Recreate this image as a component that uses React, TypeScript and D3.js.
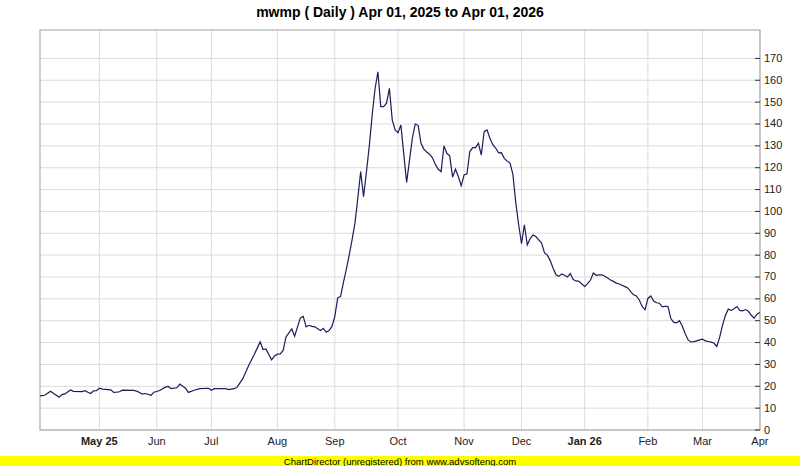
import React from "react";
import * as d3 from "d3";

// Trading-day index (0 = Apr 01, 2025) and closing price at that day
const dayIdx = [
  0, 2, 4, 7, 8, 9, 11, 12, 15, 16, 17, 18, 19, 20, 21, 22, 25, 26, 27, 28, 29, 33, 34, 36, 37, 39, 40, 41, 42, 44,
  45, 46, 48, 49, 51, 52, 54, 56, 59, 60, 61, 65, 66, 68, 69, 71, 73, 75, 77, 78, 79, 81, 82, 83, 84, 85, 86, 88, 89,
  91, 92, 93, 94, 95, 96, 98, 99, 100, 101, 102, 103, 104, 105, 106, 107, 108, 109, 110, 111, 112, 113, 114, 115, 116,
  117, 118, 119, 120, 121, 122, 123, 124, 125, 126, 128, 130, 131, 132, 133, 134, 135, 136, 137, 138, 139, 140, 141,
  142, 143, 144, 145, 146, 147, 148, 149, 150, 151, 152, 153, 154, 155, 156, 157, 158, 159, 160, 161, 162, 163, 164,
  165, 166, 167, 168, 169, 170, 171, 172, 173, 174, 175, 176, 177, 178, 179, 180, 181, 182, 183, 184, 185, 186, 187,
  188, 189, 190, 191, 192, 193, 194, 195, 196, 197, 198, 199, 200, 201, 202, 203, 204, 205, 206, 207, 208, 209, 210,
  211, 212, 213, 214, 215, 216, 217, 218, 219, 220, 221, 222, 223, 224, 225, 226, 227, 228, 229, 230, 231, 232, 233,
  234, 235, 236, 237, 238, 239, 240, 241, 242, 243, 244, 245, 246, 247, 248, 249, 250, 251,
];
const price = [
  15.6, 15.9, 17.7, 15.0, 16.2, 16.5, 18.3, 17.7, 17.6, 18.0, 17.3, 16.7, 17.9, 18.0, 19.1, 18.7, 18.4, 17.2, 17.3,
  17.5, 18.2, 18.1, 17.8, 16.4, 16.7, 15.9, 17.3, 17.6, 18.1, 19.6, 19.9, 18.9, 19.3, 21.0, 19.1, 17.2, 18.2, 18.9,
  19.1, 18.2, 18.9, 18.9, 18.5, 18.9, 19.6, 23.6, 29.5, 34.7, 40.3, 36.8, 37.1, 32.1, 33.9, 34.7, 34.8, 36.4, 42.6,
  46.3, 42.9, 51.3, 52.0, 47.2, 47.9, 47.4, 47.2, 45.5, 46.5, 44.7, 45.5, 47.4, 52.0, 60.4, 61.1, 67.5, 73.5, 80,
  87, 94.5, 106, 118.2, 106.8, 118, 130, 144, 156, 163.9, 147.9, 147.9, 149.5, 156.3, 141.8, 137.3, 136, 139.5,
  113.3, 133.5, 140, 139.4, 131.2, 128.5, 127.2, 126.2, 124.5, 121.5, 119.3, 118.2, 130, 126.6, 125.4, 115.7, 119.3,
  116, 111.7, 116.7, 117.2, 127.4, 129.2, 129.2, 131.2, 125.8, 136.5, 137.3, 133.5, 130.5, 129, 126.8, 126.9, 124.3,
  123, 122.1, 117, 104, 94, 85.2, 93.9, 84.7, 87.5, 89.2, 88.5, 87, 85.5, 81, 80, 77.5, 74, 71, 70.3, 71.4, 70.8, 70,
  71.6, 68.8, 68.2, 68, 66.8, 65.7, 67, 68.5, 71.8, 70.8, 71, 71, 70.3, 69.5, 68.6, 68, 67.2, 66.8, 66.2, 65.6, 65,
  63.3, 61.9, 61.3, 59.5, 56.5, 55, 60.2, 61.3, 59, 58.2, 58, 56.3, 56.6, 56.5, 51, 49.2, 49.0, 50, 47.5, 44, 41.2,
  40.3, 40.4, 40.8, 41.2, 41.6, 40.8, 40.5, 40.2, 39.8, 38.2, 42.5, 48, 52.5, 55.3, 54.7, 55.5, 56.5, 54.7, 54.5,
  55.1, 54.3, 52.5, 51.2, 53, 53.8,
];

const monthLabels = ["May 25", "Jun", "Jul", "Aug", "Sep", "Oct", "Nov", "Dec", "Jan 26", "Feb", "Mar", "Apr"];
const monthIdx = [21, 41, 60, 83, 103, 125, 148, 168, 190, 212, 231, 251];
const yearLabels = ["May 25", "Jan 26"];
const yTicks = [0, 10, 20, 30, 40, 50, 60, 70, 80, 90, 100, 110, 120, 130, 140, 150, 160, 170];

const title = "mwmp ( Daily ) Apr 01, 2025 to Apr 01, 2026";
const footer = "ChartDirector (unregistered) from www.advsofteng.com";

const W = 800;
const H = 466;
const L = 40;
const R = 760;
const T = 30;
const B = 430;

export default function App() {
  const x = d3.scaleLinear().domain([0, 251]).range([39, 759.9]);
  const y = d3.scaleLinear().domain([0, 183]).range([B, T]);
  const pts: [number, number][] = dayIdx.map((d, i) => [d, price[i]]);
  const line = d3
    .line<[number, number]>()
    .x((d) => x(d[0]))
    .y((d) => y(d[1]));
  const font = "'Liberation Sans', Arial, sans-serif";
  return (
    <svg
      width={W}
      height={H}
      style={{ position: "fixed", left: 0, top: 0, background: "#fff" }}
      fontFamily={font}
    >
      <rect x={0} y={0} width={W} height={H} fill="#ffffff" />
      <text x={400} y={17} textAnchor="middle" fontSize={14} fontWeight="bold" fill="#000">
        {title}
      </text>
      <defs>
        <clipPath id="plot">
          <rect x={L} y={T} width={R - L} height={B - T} />
        </clipPath>
      </defs>
      {yTicks.map((t) => (
        <line key={"hg" + t} x1={L} x2={R} y1={y(t)} y2={y(t)} stroke="#dcdcdc" strokeWidth={1} />
      ))}
      {monthIdx.map((m, i) => (
        <line key={"vg" + i} x1={x(m)} x2={x(m)} y1={T} y2={B} stroke="#dcdcdc" strokeWidth={1} />
      ))}
      <rect x={L} y={T} width={R - L} height={B - T} fill="none" stroke="#a0a0a0" strokeWidth={1} />
      <path d={line(pts) || ""} fill="none" stroke="#1c1c5a" strokeWidth={1.2} clipPath="url(#plot)" />
      {yTicks.map((t) => (
        <g key={"yt" + t}>
          <line x1={R - 5} x2={R} y1={y(t)} y2={y(t)} stroke="#333" strokeWidth={1} />
          <text x={R + 4} y={y(t) + 3.5} fontSize={11} fill="#222">
            {t}
          </text>
        </g>
      ))}
      {monthIdx.map((m, i) => (
        <text
          key={"xl" + i}
          x={x(m)}
          y={444.5}
          textAnchor="middle"
          fontSize={11}
          fontWeight={yearLabels.includes(monthLabels[i]) ? "bold" : "normal"}
          fill="#222"
        >
          {monthLabels[i]}
        </text>
      ))}
      <rect x={0} y={456} width={W} height={10} fill="#ffff00" />
      <text x={400} y={464.5} textAnchor="middle" fontSize={9.5} fill="#000">
        {footer}
      </text>
    </svg>
  );
}
